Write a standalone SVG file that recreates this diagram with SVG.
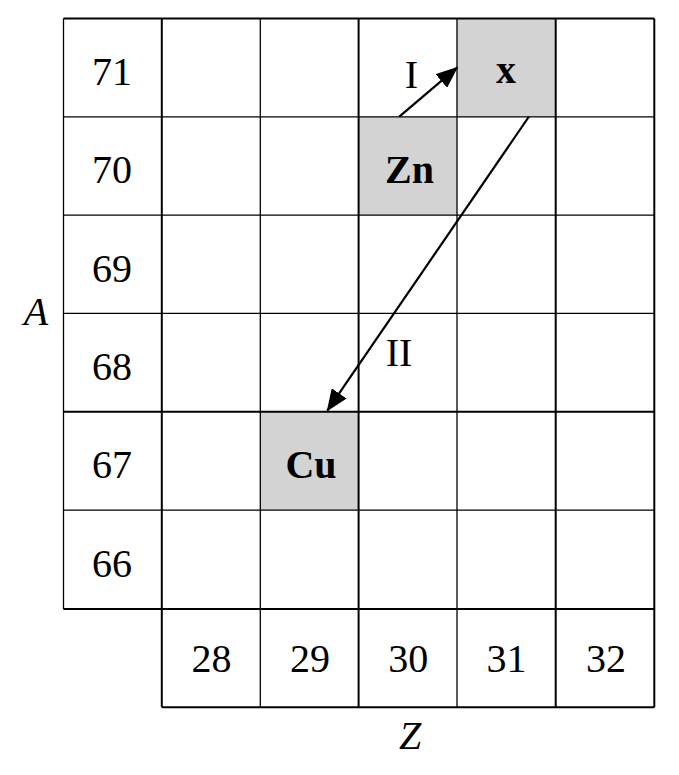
<svg xmlns="http://www.w3.org/2000/svg" width="679" height="775" viewBox="0 0 679 775">
<style>
.bg{fill:#ffffff}
.hl{fill:#d3d3d3}
.thin{stroke:#000;stroke-width:1.3;fill:none}
.thick{stroke:#000;stroke-width:2;fill:none}
.t{font-family:"Liberation Serif","Times New Roman",serif;font-size:40px;fill:#000;text-anchor:middle}
.b{font-weight:bold}
.i{font-style:italic}
.arr{stroke:#000;stroke-width:2.2;fill:none}
.head{fill:#000}
</style>
<defs>
<marker id="ah" markerWidth="22" markerHeight="18" refX="21" refY="9" orient="auto" markerUnits="userSpaceOnUse">
<path class="head" d="M0,0 L22,9 L0,18 Z"/>
</marker>
</defs>
<rect class="bg" x="0" y="0" width="679" height="775"/>
<g id="node-x"><rect class="hl" x="456.7" y="18.5" width="98.3" height="98.3"/><text class="t b" x="506" y="83.3">x</text></g>
<g id="node-Zn"><rect class="hl" x="358.4" y="116.8" width="98.3" height="98.3"/><text class="t b" x="409.5" y="182.7">Zn</text></g>
<g id="node-Cu"><rect class="hl" x="260.1" y="411.7" width="98.3" height="98.3"/><text class="t b" x="311" y="478.3">Cu</text></g>
<g id="grid">
<line class="thick" x1="63.5" y1="18.5" x2="654.3" y2="18.5"/>
<line class="thin" x1="63.5" y1="116.8" x2="654.3" y2="116.8"/>
<line class="thin" x1="63.5" y1="215.1" x2="654.3" y2="215.1"/>
<line class="thin" x1="63.5" y1="313.4" x2="654.3" y2="313.4"/>
<line class="thick" x1="63.5" y1="411.7" x2="654.3" y2="411.7"/>
<line class="thin" x1="63.5" y1="510.2" x2="654.3" y2="510.2"/>
<line class="thick" x1="63.5" y1="609" x2="654.3" y2="609"/>
<line class="thick" x1="161.8" y1="707.2" x2="654.3" y2="707.2"/>
<line class="thin" x1="63.5" y1="18.5" x2="63.5" y2="609"/>
<line class="thick" x1="161.8" y1="18.5" x2="161.8" y2="707.2"/>
<line class="thin" x1="260.3" y1="18.5" x2="260.3" y2="707.2"/>
<line class="thick" x1="358.6" y1="18.5" x2="358.6" y2="707.2"/>
<line class="thin" x1="457" y1="18.5" x2="457" y2="707.2"/>
<line class="thick" x1="555.7" y1="18.5" x2="555.7" y2="707.2"/>
<line class="thick" x1="654.3" y1="18.5" x2="654.3" y2="707.2"/>
</g>
<g id="row-labels">
<text class="t" x="112" y="85">71</text>
<text class="t" x="112" y="183.3">70</text>
<text class="t" x="112" y="281.6">69</text>
<text class="t" x="112" y="379.9">68</text>
<text class="t" x="112" y="478.2">67</text>
<text class="t" x="112" y="576.5">66</text>
</g>
<g id="col-labels">
<text class="t" x="211.5" y="672.3">28</text>
<text class="t" x="310" y="672.3">29</text>
<text class="t" x="408.3" y="672.3">30</text>
<text class="t" x="506.6" y="672.3">31</text>
<text class="t" x="606" y="672.3">32</text>
</g>
<g id="axes">
<text class="t i" x="36" y="325">A</text>
<text class="t i" x="410" y="749.3">Z</text>
</g>
<g id="connectors">
<line class="arr" x1="399.3" y1="116.7" x2="457.3" y2="67.3" marker-end="url(#ah)"/>
<text class="t" x="411.3" y="88.3">I</text>
<line class="arr" x1="529" y1="116.5" x2="327.3" y2="410.7" marker-end="url(#ah)"/>
<text class="t" x="399" y="366">II</text>
</g>
</svg>
